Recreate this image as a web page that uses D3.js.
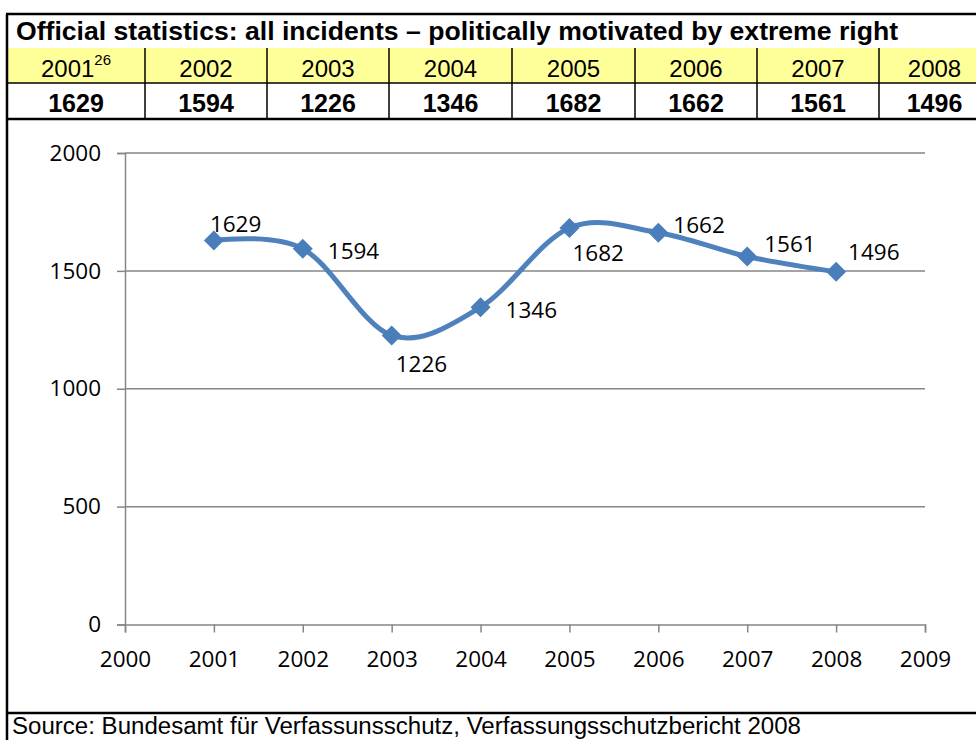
<!DOCTYPE html>
<html>
<head>
<meta charset="utf-8">
<script src="https://cdn.jsdelivr.net/npm/d3@7/dist/d3.min.js"></script>
<style>
  html, body { margin: 0; padding: 0; background: #fff; }
  svg { display: block; }
</style>
</head>
<body>
<svg id="chart" width="976" height="740"></svg>
<script>
// Incidents politically motivated by the extreme right, 2001–2008
const years = [2001, 2002, 2003, 2004, 2005, 2006, 2007, 2008];
const incidents = [1629, 1594, 1226, 1346, 1682, 1662, 1561, 1496];
const yTicks = [0, 500, 1000, 1500, 2000];
const xTicks = [2000, 2001, 2002, 2003, 2004, 2005, 2006, 2007, 2008, 2009];
const title = "Official statistics: all incidents \u2013 politically motivated by extreme right";
const footnote = "26";
const source = "Source: Bundesamt f\u00fcr Verfassunsschutz, Verfassungsschutzbericht 2008";

// label offsets (dx, dy) relative to each point, in pixels
const labelOffsets = [[-4, -8], [25, 10], [4, 37], [25, 11], [3, 33], [15, 0], [17, -4], [12, -12]];

const svg = d3.select("#chart");
const tableFont = "Arial, 'Liberation Sans', sans-serif";
const chartFont = "'Open Sans', 'Noto Sans', sans-serif";

// ---- header table ----
const frameLeft = 7, frameTop = 14, titleBottom = 48, yearBottom = 83, valueBottom = 119;
const colEdges = [7, 145, 267, 389, 512, 635, 757, 879, 990];

svg.append("rect").attr("x", frameLeft).attr("y", titleBottom)
  .attr("width", 990 - frameLeft).attr("height", yearBottom - titleBottom)
  .attr("fill", "#FFFF99");

svg.append("text").attr("x", 16).attr("y", 40)
  .attr("font-family", tableFont).attr("font-weight", "bold").attr("font-size", 25)
  .attr("textLength", 882).attr("lengthAdjust", "spacingAndGlyphs")
  .attr("fill", "#000").text(title);

const cols = svg.append("g");
years.forEach((yr, i) => {
  const cx = (colEdges[i] + colEdges[i + 1]) / 2;
  const t = cols.append("text").attr("x", cx).attr("y", 76.5)
    .attr("text-anchor", "middle").attr("font-family", tableFont).attr("font-size", 24)
    .text(yr);
  if (i === 0) {
    t.append("tspan").attr("dy", -12).attr("font-size", 15).text(footnote);
  }
  cols.append("text").attr("x", cx).attr("y", 111.5)
    .attr("text-anchor", "middle").attr("font-family", tableFont).attr("font-size", 25)
    .attr("font-weight", "bold").text(d3.format("d")(incidents[i]));
});

// table rules
const lines = svg.append("g").attr("stroke", "#000");
lines.append("line").attr("x1", frameLeft - 1).attr("x2", 990).attr("y1", frameTop).attr("y2", frameTop).attr("stroke-width", 2.5);
lines.append("line").attr("x1", frameLeft).attr("x2", 990).attr("y1", yearBottom).attr("y2", yearBottom).attr("stroke-width", 1.5);
lines.append("line").attr("x1", frameLeft).attr("x2", 990).attr("y1", valueBottom).attr("y2", valueBottom).attr("stroke-width", 2.5);
colEdges.slice(1, -1).forEach(cx => {
  lines.append("line").attr("x1", cx).attr("x2", cx).attr("y1", titleBottom).attr("y2", valueBottom).attr("stroke-width", 1.5);
});
lines.append("line").attr("x1", frameLeft).attr("x2", frameLeft).attr("y1", frameTop).attr("y2", 740).attr("stroke-width", 2.5);
lines.append("line").attr("x1", frameLeft).attr("x2", 990).attr("y1", 713).attr("y2", 713).attr("stroke-width", 2.5);

// source line
svg.append("text").attr("x", 12).attr("y", 734)
  .attr("font-family", tableFont).attr("font-size", 23)
  .attr("textLength", 789).attr("lengthAdjust", "spacingAndGlyphs")
  .text(source);

// ---- chart ----
const x = d3.scaleLinear().domain([2000, 2009]).range([125, 925]);
const y = d3.scaleLinear().domain([0, 2000]).range([624.5, 153]);
const gridColor = "#868686";
const labelSize = 22.5;

// horizontal gridlines
svg.append("g").selectAll("line").data(yTicks.filter(v => v > 0)).join("line")
  .attr("x1", x(2000)).attr("x2", x(2009))
  .attr("y1", d => y(d)).attr("y2", d => y(d))
  .attr("stroke", gridColor).attr("stroke-width", 1.5);

// y axis
const yAxis = svg.append("g").attr("transform", `translate(${x(2000)},0)`)
  .call(d3.axisLeft(y).tickValues(yTicks).tickSize(8).tickPadding(16).tickFormat(d3.format("d")));
yAxis.select(".domain").attr("stroke", gridColor).attr("stroke-width", 1.5);
yAxis.selectAll(".tick line").attr("stroke", gridColor).attr("stroke-width", 1.5);
yAxis.selectAll("text").attr("font-family", chartFont).attr("font-size", labelSize).attr("fill", "#000");

// x axis
const xAxis = svg.append("g").attr("transform", `translate(0,${y(0)})`)
  .call(d3.axisBottom(x).tickValues(xTicks).tickSize(8).tickPadding(19).tickFormat(d3.format("d")));
xAxis.select(".domain").attr("stroke", gridColor).attr("stroke-width", 1.5);
xAxis.selectAll(".tick line").attr("stroke", gridColor).attr("stroke-width", 1.5);
xAxis.selectAll("text").attr("font-family", chartFont).attr("font-size", labelSize).attr("fill", "#000");

// smoothed series line
const series = years.map((yr, i) => ({ year: yr, value: incidents[i] }));
const line = d3.line().x(d => x(d.year)).y(d => y(d.value)).curve(d3.curveCardinal.tension(0));
svg.append("path").datum(series).attr("d", line)
  .attr("fill", "none").attr("stroke", "#4F81BD").attr("stroke-width", 5)
  .attr("stroke-linejoin", "round");

// diamond markers
const diamond = d3.symbol(d3.symbolSquare, 200);
svg.append("g").selectAll("path").data(series).join("path")
  .attr("d", diamond)
  .attr("transform", d => `translate(${x(d.year)},${y(d.value)}) rotate(45)`)
  .attr("fill", "#4A7EBB");

// value labels
svg.append("g").selectAll("text").data(series).join("text")
  .attr("x", (d, i) => x(d.year) + labelOffsets[i][0])
  .attr("y", (d, i) => y(d.value) + labelOffsets[i][1])
  .attr("font-family", chartFont).attr("font-size", labelSize).attr("fill", "#000")
  .text(d => d.value);
</script>
</body>
</html>
